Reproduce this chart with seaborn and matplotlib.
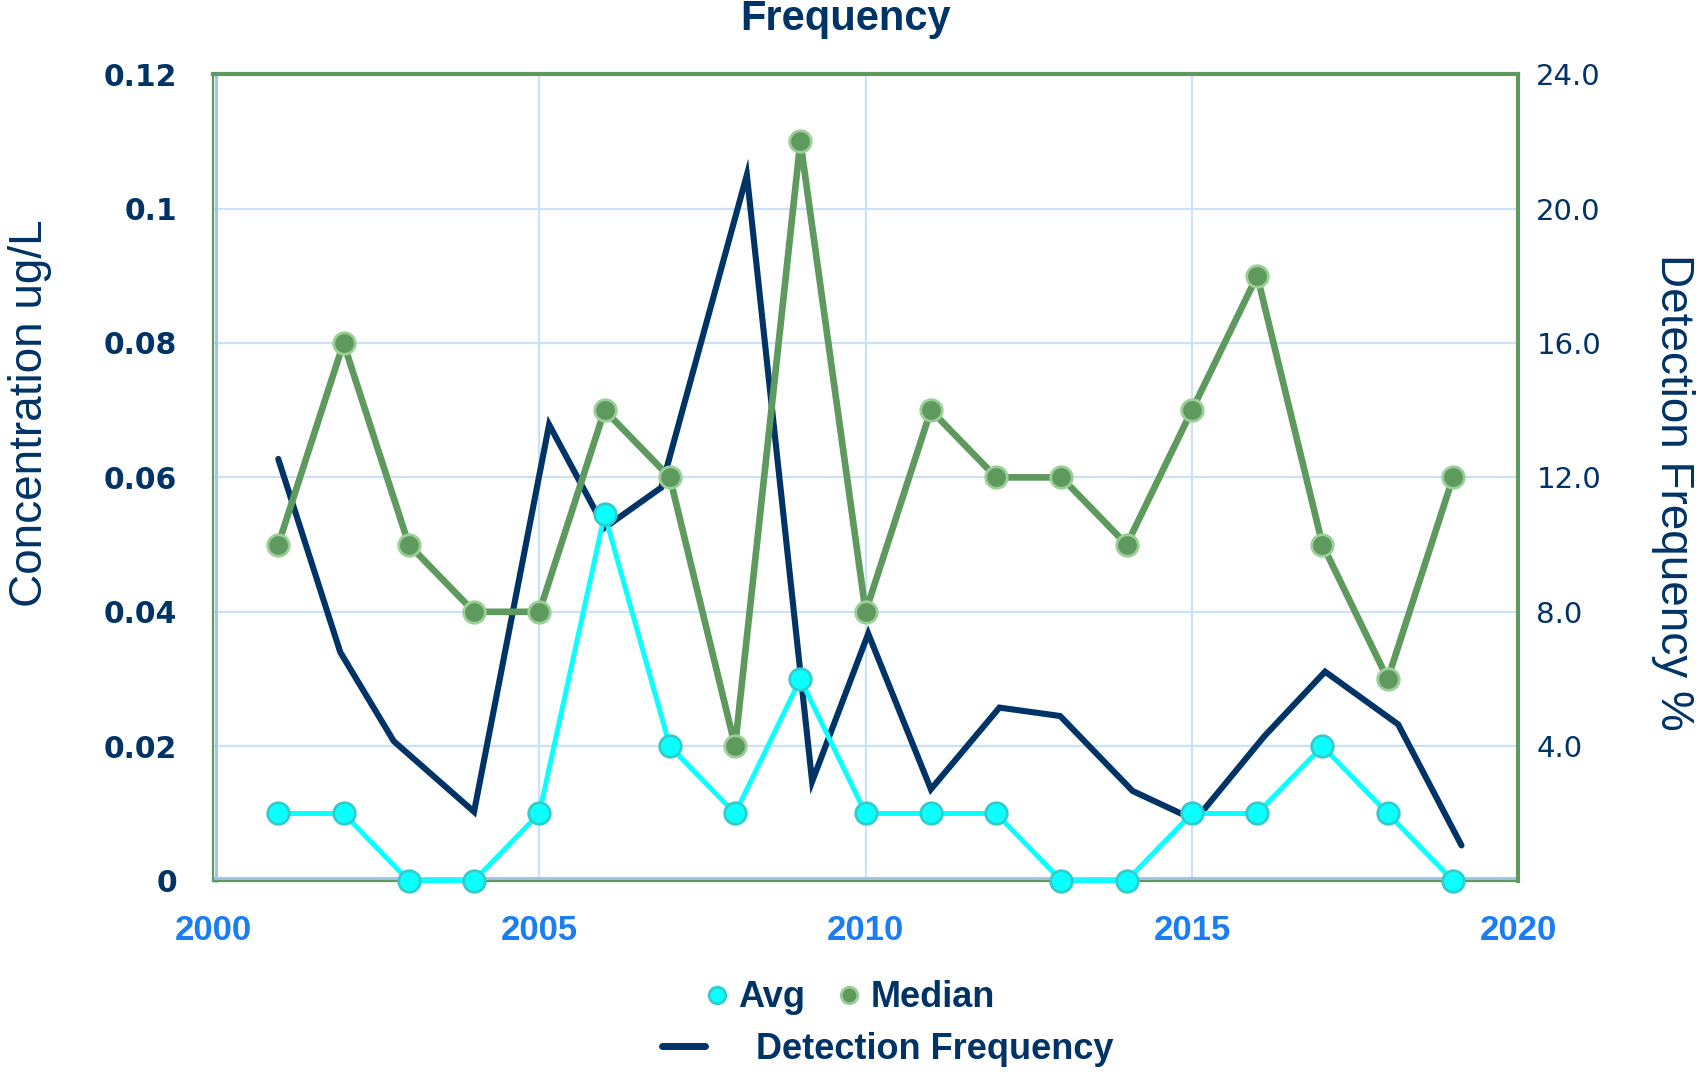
import matplotlib
matplotlib.use("Agg")
import matplotlib.pyplot as plt
from matplotlib.lines import Line2D
import seaborn as sns

# -----------------------------
# Data
# -----------------------------
years = [2001, 2002, 2003, 2004, 2005, 2006, 2007, 2008, 2009, 2010,
         2011, 2012, 2013, 2014, 2015, 2016, 2017, 2018, 2019]
avg_conc = [0.01, 0.01, 0.0, 0.0, 0.01, 0.0545, 0.02, 0.01, 0.03, 0.01,
            0.01, 0.01, 0.0, 0.0, 0.01, 0.01, 0.02, 0.01, 0.0]
median_conc = [0.05, 0.08, 0.05, 0.04, 0.04, 0.07, 0.06, 0.02, 0.11, 0.04,
               0.07, 0.06, 0.06, 0.05, 0.07, 0.09, 0.05, 0.03, 0.06]
# detection frequency vertices sit slightly off the whole years in the source
det_years = [2001.0, 2001.95, 2002.77, 2004.0, 2005.15, 2006.0, 2006.87, 2008.18,
             2009.18, 2010.04, 2011.0, 2012.05, 2012.98, 2014.09, 2015.05,
             2016.11, 2017.04, 2018.16, 2019.13]
det_freq = [12.55, 6.8, 4.15, 2.05, 13.57, 10.5, 11.7, 21.0, 2.95, 7.35,
            2.72, 5.15, 4.9, 2.67, 1.8, 4.3, 6.22, 4.65, 1.05]

x_ticks = [2000, 2005, 2010, 2015, 2020]
left_ticks = [0, 0.02, 0.04, 0.06, 0.08, 0.1, 0.12]
left_labels = ["0", "0.02", "0.04", "0.06", "0.08", "0.1", "0.12"]
right_ticks = [4, 8, 12, 16, 20, 24]
right_labels = ["4.0", "8.0", "12.0", "16.0", "20.0", "24.0"]

# -----------------------------
# Colours
# -----------------------------
navy = "#003366"
green = "#5E9A5E"
green_edge = "#9CCF98"
cyan = "#0AFFFF"
cyan_edge = "#33CCCC"
grid_blue = "#C9E1FA"
axis_blue = "#9DC3E6"
tick_blue = "#1A7EF2"

sns.set_style("white")
plt.rcParams['font.family'] = ['Liberation Sans', 'DejaVu Sans']

fig = plt.figure(figsize=(17.04, 10.74), dpi=100)
ax = fig.add_axes([0.125, 0.180, 0.766, 0.751])
ax2 = ax.twinx()

# plot-area frame: heavy green top/right, thin green + light blue axis lines left/bottom
# (spine positions first: moving a spine resets its axis ticks)
for name, s in ax2.spines.items():
    if name in ('left', 'bottom'):
        s.set_color(axis_blue)
        s.set_linewidth(2)
        s.set_position(('outward', -1.8))
    else:
        s.set_visible(False)
for name, s in ax.spines.items():
    s.set_color(green)
    s.set_linewidth(3 if name in ('top', 'right') else 1.6)
    s.set_zorder(5)

# detection frequency on the secondary axis, drawn behind the concentrations
sns.lineplot(x=det_years, y=det_freq, ax=ax2, color=navy, lw=4.4,
             solid_joinstyle='miter', zorder=2)
ax2.set_xlim(2000, 2020)
ax2.set_ylim(0, 24)
ax2.set_yticks(right_ticks)
ax2.set_yticklabels(right_labels, fontfamily='DejaVu Sans', fontsize=21, color=navy)
ax2.tick_params(axis='y', length=0, pad=13)
ax2.xaxis.set_visible(True)
ax2.tick_params(axis='x', length=0, labelbottom=False, labeltop=False)
ax2.grid(True, axis='both', color=grid_blue, lw=1.6, zorder=0)
ax2.set_axisbelow(True)
ax2.set_ylabel("Detection Frequency %", fontsize=33, color=navy,
               rotation=270, va='bottom')
ax2.yaxis.set_label_coords(1.102, 0.482)

ax.set_zorder(ax2.get_zorder() + 1)
ax.patch.set_visible(False)

sns.lineplot(x=years, y=median_conc, ax=ax, color=green, lw=4.8,
             marker='o', markersize=15.5, markerfacecolor=green,
             markeredgecolor=green_edge, markeredgewidth=2, zorder=6,
             clip_on=False)
sns.lineplot(x=years, y=avg_conc, ax=ax, color=cyan, lw=3.6,
             marker='o', markersize=15.5, markerfacecolor=cyan,
             markeredgecolor=cyan_edge, markeredgewidth=2, zorder=7,
             clip_on=False)

ax.set_xlim(2000, 2020)
ax.set_ylim(0, 0.12)
ax.set_xticks(x_ticks)
ax.set_xticklabels([str(t) for t in x_ticks], fontsize=25, fontweight='bold', color=tick_blue)
ax.set_yticks(left_ticks)
ax.set_yticklabels(left_labels, fontfamily='DejaVu Sans', fontsize=21.5,
                   fontweight='bold', color=navy)
ax.tick_params(axis='x', length=0, pad=24)
ax.tick_params(axis='y', length=0, pad=26)
ax.set_ylabel("Concentration ug/L", fontsize=33, color=navy)
ax.yaxis.set_label_coords(-0.123, 0.58)
ax.grid(False)

# title fragment at the top
fig.text(0.496, 0.972, "Frequency", ha='center', va='baseline',
         fontsize=30, fontweight='bold', color=navy)

# legend, two rows like the original
h_avg = Line2D([], [], ls='none', marker='o', markersize=12, markerfacecolor=cyan,
               markeredgecolor=cyan_edge, markeredgewidth=2)
h_med = Line2D([], [], ls='none', marker='o', markersize=12, markerfacecolor=green,
               markeredgecolor=green_edge, markeredgewidth=2)
h_det = Line2D([], [], color=navy, lw=5)
leg_font = {'size': 26, 'weight': 'bold'}
fig.legend([h_avg, h_med], ["Avg", "Median"], loc='center',
           bbox_to_anchor=(0.499, 0.071), ncol=2, frameon=False,
           prop=leg_font, handlelength=0.6, handletextpad=0.3,
           columnspacing=0.9, labelcolor=navy)
fig.legend([h_det], ["Detection Frequency"], loc='center',
           bbox_to_anchor=(0.521, 0.023), frameon=False,
           prop=leg_font, handlelength=1.2, handletextpad=1.4,
           labelcolor=navy)

fig.savefig("out.png", dpi=100)
plt.close()
